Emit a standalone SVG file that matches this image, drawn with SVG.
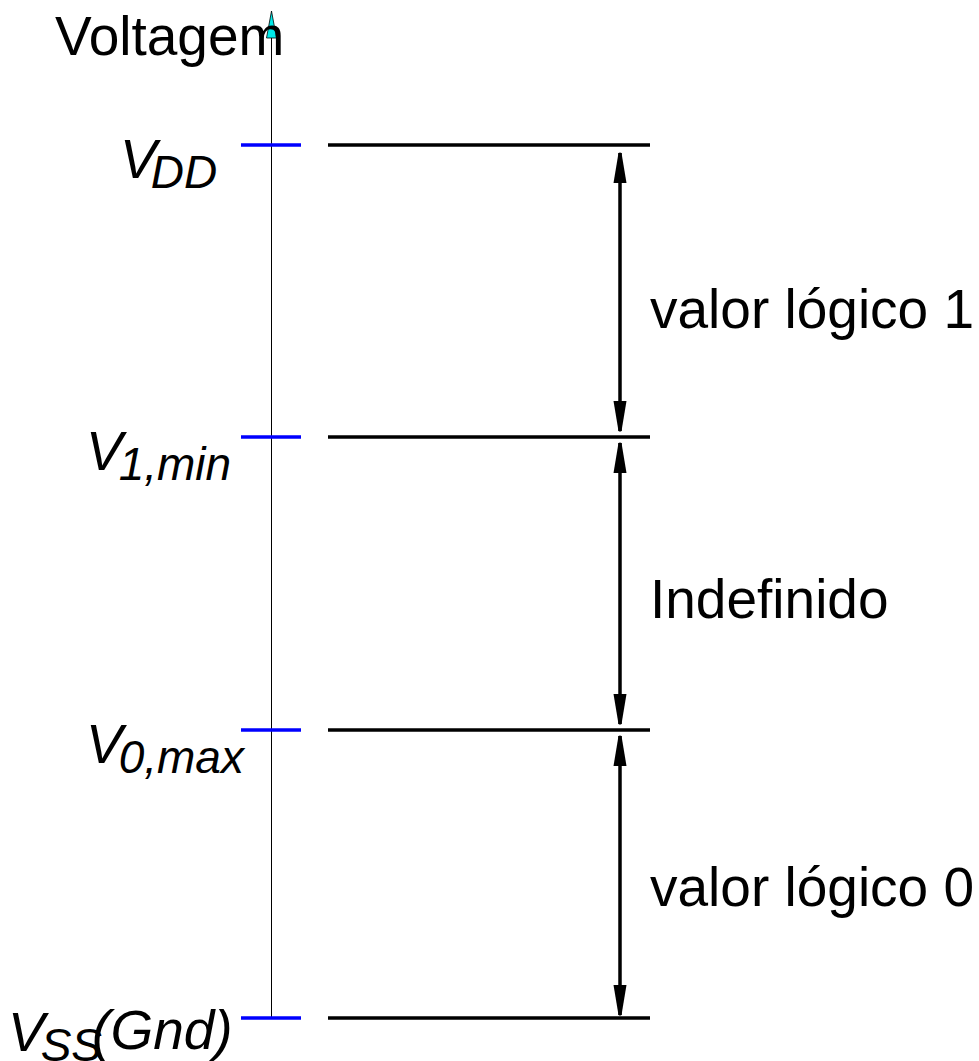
<svg xmlns="http://www.w3.org/2000/svg" width="979" height="1061" viewBox="0 0 979 1061">
<style>
text{font-family:"Liberation Sans",Arial,sans-serif;font-size:55px;fill:#000}
.it{font-style:italic}
.sub{font-size:46px}
.tick{stroke:#0000ff;stroke-width:3.5}
.lvl{stroke:#000;stroke-width:3.5}
.dim{stroke:#000;stroke-width:3.5;fill:none}
</style>
<defs>
<marker id="ah" markerUnits="userSpaceOnUse" viewBox="-32 -8 34 16" refX="0" refY="0" markerWidth="34" markerHeight="16" orient="auto-start-reverse">
<path d="M0,-1.5 Q1,0 0,1.5 L-30,6.5 L-30,-6.5 Z" fill="#000"/>
</marker>
</defs>
<rect width="979" height="1061" fill="#fff"/>
<g id="axis">
<line x1="271.5" y1="36" x2="271.5" y2="1018" stroke="#000" stroke-width="1"/>
<path d="M271.5,11 L276.5,38 L266.5,38 Z" fill="#00eaea" stroke="#000" stroke-width="0.8"/>
<text x="55" y="55">Voltagem</text>
</g>
<g id="vdd">
<line class="tick" x1="241" y1="145" x2="301" y2="145"/>
<line class="lvl" x1="328" y1="145" x2="650" y2="145"/>
<text class="it" x="120" y="178">V<tspan class="sub" dx="-6" dy="10">DD</tspan></text>
</g>
<g id="v1min">
<line class="tick" x1="241" y1="437" x2="301" y2="437"/>
<line class="lvl" x1="328" y1="437" x2="650" y2="437"/>
<text class="it" x="86" y="470">V<tspan class="sub" dx="-4" dy="10">1,min</tspan></text>
</g>
<g id="v0max">
<line class="tick" x1="241" y1="730" x2="301" y2="730"/>
<line class="lvl" x1="328" y1="730" x2="650" y2="730"/>
<text class="it" x="86" y="763">V<tspan class="sub" dx="-4" dy="10">0,max</tspan></text>
</g>
<g id="vss">
<line class="tick" x1="241" y1="1018" x2="301" y2="1018"/>
<line class="lvl" x1="328" y1="1018" x2="650" y2="1018"/>
<text class="it" x="8" y="1051">V<tspan class="sub" dx="-4" dy="10">SS</tspan><tspan dx="-10" dy="-12">(Gnd)</tspan></text>
</g>
<g id="labels">
<text x="650" y="328">valor lógico 1</text>
<text x="650" y="618">Indefinido</text>
<text x="650" y="906">valor lógico 0</text>
</g>
<g id="connectors">
<line class="dim" x1="620" y1="153" x2="620" y2="431" marker-start="url(#ah)" marker-end="url(#ah)"/>
<line class="dim" x1="620" y1="443" x2="620" y2="724" marker-start="url(#ah)" marker-end="url(#ah)"/>
<line class="dim" x1="620" y1="736" x2="620" y2="1015" marker-start="url(#ah)" marker-end="url(#ah)"/>
</g>
</svg>
